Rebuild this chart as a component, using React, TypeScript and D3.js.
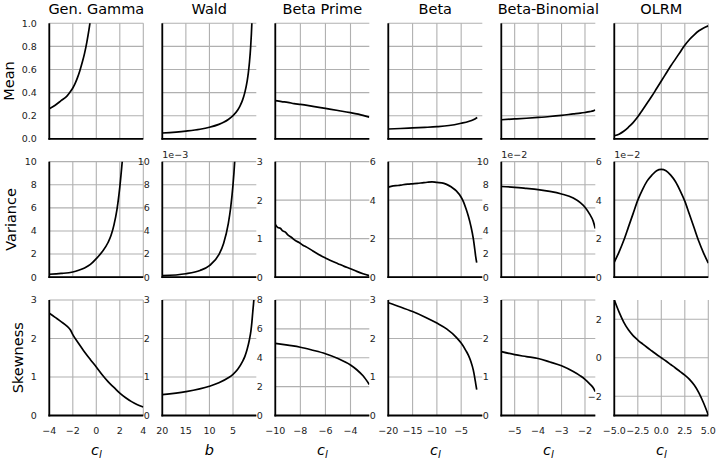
import React from 'react';
import * as d3 from 'd3';

const FONT = "'DejaVu Sans', sans-serif";
const W = 718, H = 459;
const colLeft0 = 49.3, colStep = 113, panelW = 94;
const rowTop0 = 23.3, rowStep = 138.35, panelH = 115.5;

const titles = ['Gen. Gamma', 'Wald', 'Beta Prime', 'Beta', 'Beta-Binomial', 'OLRM'];
const rowLabels = ['Mean', 'Variance', 'Skewness'];
const rowLabelX = [13.5, 16, 22.5];
const xLabels = ['c', 'b', 'c', 'c', 'c', 'c'];

// x axes per column
const xDomains: [number, number][] = [[-4, 4], [20, 0.06], [-10, -2.5], [-20, -0.65], [-5.57, -1.56], [-5, 5]];
const xTicks: number[][] = [[-4, -2, 0, 2, 4], [20, 15, 10, 5], [-10, -8, -6, -4], [-20, -15, -10, -5], [-5, -4, -3, -2], [-5, -2.5, 0, 2.5, 5]];

// ---- Gen. Gamma ----
const ggMeanX = [-4, -3.5, -3, -2.5, -2.2, -2, -1.8, -1.6, -1.4, -1.2, -1.0, -0.8, -0.6, -0.5];
const ggMeanY = [0.26, 0.29, 0.33, 0.37, 0.41, 0.44, 0.48, 0.53, 0.59, 0.66, 0.74, 0.84, 0.96, 1.03];
const ggVarX = [-4, -3, -2, -1.5, -1, -0.5, 0, 0.5, 1, 1.25, 1.5, 1.75, 2, 2.25];
const ggVarY = [0.25, 0.32, 0.45, 0.6, 0.8, 1.1, 1.6, 2.2, 3.0, 3.6, 4.5, 5.8, 7.8, 10.5];
const ggSkewX = [-4, -3.5, -3, -2.5, -2.2, -2, -1.5, -1, -0.5, 0, 0.5, 1, 1.5, 2, 2.5, 3, 3.5, 4];
const ggSkewY = [2.66, 2.55, 2.44, 2.32, 2.22, 2.1, 1.87, 1.65, 1.45, 1.26, 1.06, 0.88, 0.73, 0.58, 0.46, 0.36, 0.28, 0.22];

// ---- Wald ----
const waldMeanB = [20, 15, 12, 10, 8, 7, 6, 5, 4, 3.5, 3, 2.5, 2, 1.75, 1.5, 1.25, 1.1, 0.95];
const waldMean = [0.05, 0.067, 0.083, 0.1, 0.125, 0.143, 0.167, 0.2, 0.25, 0.286, 0.333, 0.4, 0.5, 0.571, 0.667, 0.8, 0.909, 1.05];
const waldVarB = [20, 15, 12, 10, 8, 7, 6, 5.5, 5, 4.8, 4.6];
const waldVar = [0.125, 0.296, 0.579, 1.0, 1.95, 2.92, 4.63, 6.01, 8.0, 9.04, 10.27];
const waldSkewB = [20, 15, 10, 8, 6, 5, 4, 3, 2.5, 2, 1.5, 1.2, 1, 0.8, 0.65, 0.55];
const waldSkew = [0.54, 0.62, 0.76, 0.85, 0.98, 1.07, 1.2, 1.4, 1.53, 1.72, 1.98, 2.2, 2.42, 2.7, 2.9, 3.05];

// ---- Beta Prime ----
const bpMeanX = [-10, -9.5, -9, -8.5, -8, -7, -6, -5, -4, -3, -2.5];
const bpMean = [0.33, 0.322, 0.316, 0.305, 0.298, 0.281, 0.263, 0.245, 0.226, 0.203, 0.188];
const bpVarX = [-10, -9.8, -9.6, -9.4, -9.2, -9, -8.7, -8.4, -8.1, -7.8, -7.5, -7, -6.5, -6, -5.5, -5, -4.5, -4, -3.5, -3, -2.5];
const bpVar = [1.37, 1.29, 1.27, 1.2, 1.17, 1.1, 1.03, 0.95, 0.9, 0.83, 0.78, 0.68, 0.58, 0.5, 0.42, 0.35, 0.28, 0.22, 0.15, 0.09, 0.04];
const bpSkewX = [-10, -9, -8, -7, -6, -5, -4, -3.5, -3, -2.5];
const bpSkew = [5.0, 4.87, 4.73, 4.52, 4.28, 3.95, 3.5, 3.17, 2.75, 2.15];

// ---- Beta ----
const betaMeanX = [-20, -17.5, -15, -12.5, -10, -7.5, -5, -3.5, -2.5, -1.7];
const betaMean = [0.085, 0.089, 0.094, 0.099, 0.105, 0.115, 0.135, 0.15, 0.165, 0.185];
const betaVarX = [-20, -19, -18, -17, -16, -15, -14, -13, -12, -11, -10, -9, -8, -7, -6, -5, -4.5, -4, -3.5, -3, -2.5, -2.2, -2, -1.8];
const betaVar = [4.68, 4.74, 4.76, 4.8, 4.83, 4.85, 4.87, 4.9, 4.93, 4.95, 4.92, 4.9, 4.82, 4.68, 4.48, 4.15, 3.9, 3.55, 3.15, 2.65, 2.0, 1.45, 1.05, 0.75];
const betaSkewX = [-20, -17.5, -15, -12.5, -10, -8, -6, -5, -4, -3.5, -3, -2.5, -2.2, -2, -1.8];
const betaSkew = [2.93, 2.82, 2.7, 2.56, 2.4, 2.25, 2.03, 1.88, 1.68, 1.56, 1.4, 1.18, 0.98, 0.82, 0.67];

// ---- Beta-Binomial ----
const bbX = [-5.57, -5, -4.5, -4, -3.5, -3, -2.5, -2.2, -2, -1.8, -1.65, -1.56];
const bbMean = [0.165, 0.172, 0.178, 0.185, 0.193, 0.203, 0.215, 0.222, 0.228, 0.235, 0.242, 0.25];
const bbVar = [7.85, 7.78, 7.68, 7.57, 7.42, 7.2, 6.85, 6.45, 6.05, 5.45, 4.85, 4.2];
const bbSkew = [1.66, 1.58, 1.53, 1.48, 1.39, 1.29, 1.14, 1.03, 0.94, 0.82, 0.72, 0.62];

// ---- OLRM ----
const olX = [-5, -4.5, -4, -3.5, -3, -2.5, -2, -1.5, -1, -0.5, 0, 0.5, 1, 1.5, 2, 2.5, 3, 3.5, 4, 4.5, 5];
const olMean = [0.026, 0.04, 0.065, 0.1, 0.14, 0.19, 0.25, 0.31, 0.37, 0.435, 0.5, 0.565, 0.63, 0.69, 0.75, 0.81, 0.86, 0.9, 0.935, 0.96, 0.978];
const olVar = [0.78, 1.3, 1.9, 2.6, 3.3, 4.0, 4.55, 5.0, 5.3, 5.53, 5.6, 5.53, 5.3, 4.97, 4.5, 3.95, 3.25, 2.55, 1.85, 1.25, 0.73];
const olSkew = [3.0, 2.38, 1.85, 1.45, 1.15, 0.92, 0.72, 0.53, 0.35, 0.17, 0, -0.17, -0.35, -0.53, -0.72, -0.9, -1.12, -1.42, -1.82, -2.35, -2.97];

// y axes
const meanTicks = [0, 0.2, 0.4, 0.6, 0.8, 1.0];
const tick0to10 = [0, 2, 4, 6, 8, 10];
const tick0to3 = [0, 1, 2, 3];
const tick0to6 = [0, 2, 4, 6];
const tick0to8 = [0, 2, 4, 6, 8];
const tickSym = [-2, 0, 2];

type Panel = {
  xs: number[]; ys: number[];
  yDomain: [number, number]; yTicks: number[]; showY: boolean; dec?: boolean; offset?: string;
};

const panels: Panel[][] = [
  [
    { xs: ggMeanX, ys: ggMeanY, yDomain: [0, 1], yTicks: meanTicks, showY: true, dec: true },
    { xs: waldMeanB, ys: waldMean, yDomain: [0, 1], yTicks: meanTicks, showY: false },
    { xs: bpMeanX, ys: bpMean, yDomain: [0, 1], yTicks: meanTicks, showY: false },
    { xs: betaMeanX, ys: betaMean, yDomain: [0, 1], yTicks: meanTicks, showY: false },
    { xs: bbX, ys: bbMean, yDomain: [0, 1], yTicks: meanTicks, showY: false },
    { xs: olX, ys: olMean, yDomain: [0, 1], yTicks: meanTicks, showY: false },
  ],
  [
    { xs: ggVarX, ys: ggVarY, yDomain: [0, 10], yTicks: tick0to10, showY: true },
    { xs: waldVarB, ys: waldVar, yDomain: [0, 10], yTicks: tick0to10, showY: true, offset: '1e\u22123' },
    { xs: bpVarX, ys: bpVar, yDomain: [0, 3], yTicks: tick0to3, showY: true },
    { xs: betaVarX, ys: betaVar, yDomain: [0, 6], yTicks: tick0to6, showY: true },
    { xs: bbX, ys: bbVar, yDomain: [0, 10], yTicks: tick0to10, showY: true, offset: '1e\u22122' },
    { xs: olX, ys: olVar, yDomain: [0, 6], yTicks: tick0to6, showY: true, offset: '1e\u22122' },
  ],
  [
    { xs: ggSkewX, ys: ggSkewY, yDomain: [0, 3], yTicks: tick0to3, showY: true },
    { xs: waldSkewB, ys: waldSkew, yDomain: [0, 3], yTicks: tick0to3, showY: true },
    { xs: bpSkewX, ys: bpSkew, yDomain: [0, 8], yTicks: tick0to8, showY: true },
    { xs: betaSkewX, ys: betaSkew, yDomain: [0, 3], yTicks: tick0to3, showY: true },
    { xs: bbX, ys: bbSkew, yDomain: [0, 3], yTicks: tick0to3, showY: true },
    { xs: olX, ys: olSkew, yDomain: [-3, 3], yTicks: tickSym, showY: true },
  ],
];

const minus = (s: string) => s.replace(/-/g, '\u2212');
const fmtInt = d3.format('d');
const fmt1 = d3.format('.1f');

const GRID = '#b0b0b0';
const TICK_FS = 9.5;
const LABEL_FS = 14.5;

export default function App() {
  const out: React.ReactNode[] = [];
  const defs: React.ReactNode[] = [];

  panels.forEach((row, r) => {
    const top = rowTop0 + r * rowStep;
    const bottom = top + panelH;
    row.forEach((p, c) => {
      const left = colLeft0 + c * colStep;
      const right = left + panelW;
      const sx = d3.scaleLinear().domain(xDomains[c]).range([left, right]);
      const sy = d3.scaleLinear().domain(p.yDomain).range([bottom, top]);
      const id = `clip-${r}-${c}`;
      defs.push(
        <clipPath id={id} key={id}>
          <rect x={left} y={top} width={panelW} height={panelH} />
        </clipPath>
      );
      const line = d3.line<number>()
        .x((_, i) => sx(p.xs[i]))
        .y((v) => sy(v))
        .curve(d3.curveMonotoneX);
      const g: React.ReactNode[] = [];
      xTicks[c].forEach((t, i) => {
        const x = sx(t);
        g.push(<line key={`gx${i}`} x1={x} x2={x} y1={top} y2={bottom} stroke={GRID} strokeWidth={1.1} />);
      });
      p.yTicks.forEach((t, i) => {
        const y = sy(t);
        g.push(<line key={`gy${i}`} x1={left} x2={right} y1={y} y2={y} stroke={GRID} strokeWidth={1.1} />);
        if (p.showY) {
          g.push(
            <text key={`ty${i}`} x={left - 12.5} y={y} dy="0.36em" textAnchor="end" fontSize={TICK_FS} fill="#222">
              {minus(p.dec ? fmt1(t) : fmtInt(t))}
            </text>
          );
        }
      });
      g.push(
        <path key="curve" d={line(p.ys) || ''} fill="none" stroke="#000" strokeWidth={1.7}
          strokeLinejoin="round" clipPath={`url(#${id})`} />
      );
      g.push(<line key="sl" x1={left} x2={left} y1={top} y2={bottom + 0.9} stroke="#000" strokeWidth={1.8} />);
      g.push(<line key="sb" x1={left - 0.9} x2={right} y1={bottom} y2={bottom} stroke="#000" strokeWidth={1.8} />);
      if (p.offset) {
        g.push(
          <text key="off" x={left} y={top - 4} fontSize={TICK_FS} fill="#222">{p.offset}</text>
        );
      }
      if (r === 2) {
        xTicks[c].forEach((t, i) => {
          const lab = c === 5 ? fmt1(t) : fmtInt(t);
          g.push(
            <text key={`tx${i}`} x={sx(t)} y={bottom + 18.5} textAnchor="middle" fontSize={TICK_FS} fill="#222">
              {minus(lab)}
            </text>
          );
        });
        const cx = (left + right) / 2;
        if (xLabels[c] === 'b') {
          g.push(
            <text key="xl" x={cx} y={455} textAnchor="middle" fontSize={LABEL_FS} fontStyle="italic">b</text>
          );
        } else {
          g.push(
            <text key="xl" x={cx} y={455} textAnchor="middle" fontSize={LABEL_FS} fontStyle="italic">
              c<tspan fontSize={LABEL_FS * 0.7} dy={3}>l</tspan>
            </text>
          );
        }
      }
      if (r === 0) {
        g.push(
          <text key="title" x={(left + right) / 2} y={13.5} textAnchor="middle" fontSize={LABEL_FS}>{titles[c]}</text>
        );
      }
      out.push(<g key={`p-${r}-${c}`}>{g}</g>);
    });
    const cy = top + panelH / 2;
    out.push(
      <text key={`rl${r}`} transform={`translate(${rowLabelX[r]},${cy}) rotate(-90)`} textAnchor="middle" fontSize={LABEL_FS}>
        {rowLabels[r]}
      </text>
    );
  });

  return (
    <svg width={W} height={H} viewBox={`0 0 ${W} ${H}`} fontFamily={FONT}
      style={{ position: 'absolute', left: 0, top: 0, background: '#fff' }}>
      <defs>{defs}</defs>
      <rect x={0} y={0} width={W} height={H} fill="#fff" />
      {out}
    </svg>
  );
}
